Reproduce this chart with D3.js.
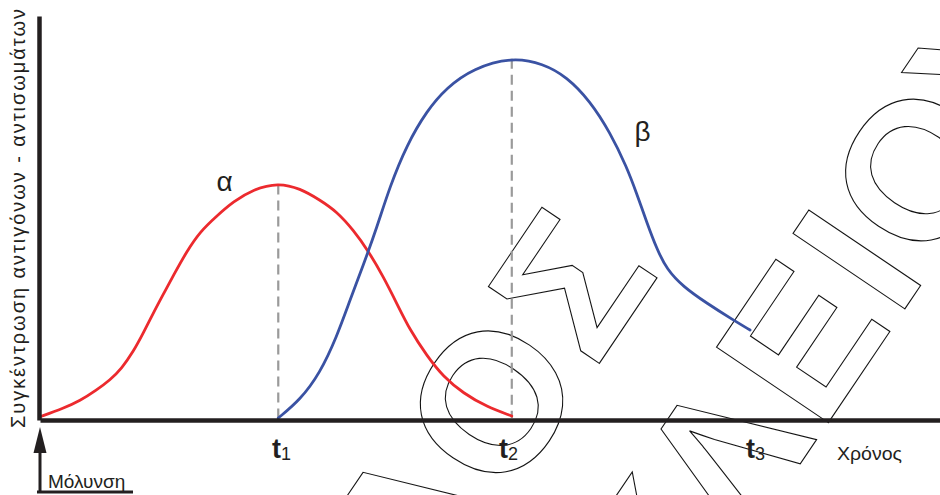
<!DOCTYPE html>
<html>
<head>
<meta charset="utf-8">
<script src="https://cdn.jsdelivr.net/npm/d3@7"></script>
<style>
  html, body { margin: 0; padding: 0; background: #fff; }
  svg { display: block; }
</style>
</head>
<body>
<svg id="chart" width="940" height="495"></svg>
<script>
// ---- data (time in units where t1 = 1, t2 = 2, t3 = 3; concentration 0..100) ----
const alphaTime  = [0, 0.098, 0.169, 0.239, 0.296, 0.345, 0.394, 0.436, 0.478, 0.521, 0.563, 0.619, 0.676, 0.746, 0.816, 0.901, 1.006, 1.098, 1.182, 1.253, 1.323, 1.386, 1.450, 1.506, 1.562, 1.633, 1.703, 1.787, 1.886, 1.992];
const alphaValue = [0.3, 2.4, 4.3, 7.0, 9.5, 12.4, 16.6, 21.2, 26.2, 31.0, 35.6, 41.6, 46.6, 50.5, 54.1, 57.2, 58.8, 57.4, 54.5, 51.6, 47.0, 41.8, 35.3, 28.7, 22.0, 15.6, 10.3, 6.2, 2.8, 0.5];
const betaTime   = [1.006, 1.098, 1.182, 1.253, 1.309, 1.365, 1.422, 1.478, 1.548, 1.633, 1.717, 1.829, 1.992, 2.125, 2.224, 2.322, 2.407, 2.477, 2.519, 2.562, 2.604, 2.646, 2.716, 2.815, 2.927, 2.998];
const betaValue  = [0.0, 4.5, 11.2, 20.3, 29.5, 38.2, 47.6, 58.0, 68.2, 76.8, 82.6, 87.4, 90.2, 88.6, 85.3, 79.3, 71.4, 62.8, 56.2, 48.9, 42.3, 37.2, 32.8, 28.7, 24.5, 22.0];
const seriesNames = ["α", "β"];
const seriesLabelAt = [[0.745, 56.8], [2.51, 69.2]];   // (time, value) where the series letter sits
const peakTimes = [1.006, 1.992];                       // dashed guides t1, t2
const peakValues = [58.4, 89.8];
const tickNames = ["1", "2", "3"];
const tickLabelTime = [0.980, 1.938, 2.981];
const xTitle = "Χρόνος";
const yTitle = "Συγκέντρωση αντιγόνων - αντισωμάτων";
const startLabel = "Μόλυνση";
const watermarkLines = [["Λ", "Ο", "Σ"], ["Κ", "Λ", "Ε", "Ι", "Ο", "Υ"]];

// ---- layout ----
const svg = d3.select("#chart");
const x = d3.scaleLinear().domain([0, 3.8]).range([40, 940]);
const y = d3.scaleLinear().domain([0, 100]).range([418, 18]);
const ink = "#231f20";
const font = "'Liberation Sans', Arial, sans-serif";

// ---- watermark (outlined letters) ----
const wmU = [[-203, -58, 84], [-102, 28, 165, 264, 372, 506]];
const wmV = [700, 923];
const wm = svg.append("g").attr("transform", "rotate(-56)");
watermarkLines.forEach((line, i) => {
  line.forEach((ch, j) => {
    wm.append("text")
      .attr("x", wmU[i][j]).attr("y", wmV[i])
      .attr("text-anchor", "middle")
      .attr("font-family", font).attr("font-weight", "bold")
      .attr("font-size", 196)
      .attr("fill", "none").attr("stroke", "#111").attr("stroke-width", 1.1)
      .text(ch);
  });
});

// ---- dashed guides ----
svg.selectAll("line.guide").data(peakTimes).enter().append("line")
  .attr("class", "guide")
  .attr("x1", d => x(d)).attr("x2", d => x(d))
  .attr("y1", (d, i) => y(peakValues[i])).attr("y2", y(0))
  .attr("stroke", "#9a9a9a").attr("stroke-width", 2.2)
  .attr("stroke-dasharray", "10,6");

// ---- curves ----
const line = d3.line().x(d => x(d[0])).y(d => y(d[1])).curve(d3.curveBasis);
const alphaData = alphaTime.map((t, i) => [t, alphaValue[i]]);
const betaData = betaTime.map((t, i) => [t, betaValue[i]]);
svg.append("path").datum(alphaData).attr("d", line)
  .attr("fill", "none").attr("stroke", "#ec2a2e").attr("stroke-width", 2.8)
  .attr("stroke-linecap", "round").attr("stroke-linejoin", "round");
svg.append("path").datum(betaData).attr("d", line)
  .attr("fill", "none").attr("stroke", "#3a52a3").attr("stroke-width", 2.8)
  .attr("stroke-linecap", "round").attr("stroke-linejoin", "round");

// series letters
svg.selectAll("text.series").data(seriesNames).enter().append("text")
  .attr("class", "series")
  .attr("x", (d, i) => x(seriesLabelAt[i][0]))
  .attr("y", (d, i) => y(seriesLabelAt[i][1]))
  .attr("font-family", font).attr("font-size", 28).attr("fill", ink)
  .text(d => d);

// ---- axes ----
const xAxis = d3.axisBottom(x).tickValues([]).tickSizeOuter(0);
const gx = svg.append("g").attr("transform", "translate(0,420)").call(xAxis);
gx.select(".domain").attr("stroke", ink).attr("stroke-width", 4.5);
const yAxisScale = y.copy().domain([-0.5, 100.5]).range([420, 16]);
const yAxis = d3.axisLeft(yAxisScale).tickValues([]).tickSizeOuter(0);
const gy = svg.append("g").attr("transform", "translate(39,0)").call(yAxis);
gy.select(".domain").attr("stroke", ink).attr("stroke-width", 4.5);

// tick labels t1, t2, t3
tickNames.forEach((n, i) => {
  const t = svg.append("text")
    .attr("x", x(tickLabelTime[i])).attr("y", 458)
    .attr("font-family", font).attr("font-weight", "bold").attr("font-size", 27)
    .attr("fill", ink).text("t");
  t.append("tspan").attr("font-size", 18).attr("font-weight", "normal").attr("dy", 2).text(n);
});

// x title
svg.append("text").attr("x", 837).attr("y", 460)
  .attr("font-family", font).attr("font-size", 19).attr("fill", ink)
  .attr("textLength", 65).attr("lengthAdjust", "spacingAndGlyphs")
  .text(xTitle);

// y title
svg.append("text")
  .attr("transform", "translate(25,428) rotate(-90)")
  .attr("font-family", font).attr("font-size", 20).attr("fill", ink)
  .attr("textLength", 419).attr("lengthAdjust", "spacing")
  .text(yTitle);

// infection marker
svg.append("line").attr("x1", 40).attr("x2", 40).attr("y1", 492).attr("y2", 445)
  .attr("stroke", ink).attr("stroke-width", 3);
svg.append("path").attr("d", "M40,427 L33.5,453 L46.5,453 Z").attr("fill", ink);
svg.append("line").attr("x1", 37).attr("x2", 133).attr("y1", 492).attr("y2", 492)
  .attr("stroke", ink).attr("stroke-width", 3);
svg.append("text").attr("x", 48).attr("y", 488)
  .attr("font-family", font).attr("font-size", 19).attr("fill", ink)
  .text(startLabel);
</script>
</body>
</html>
